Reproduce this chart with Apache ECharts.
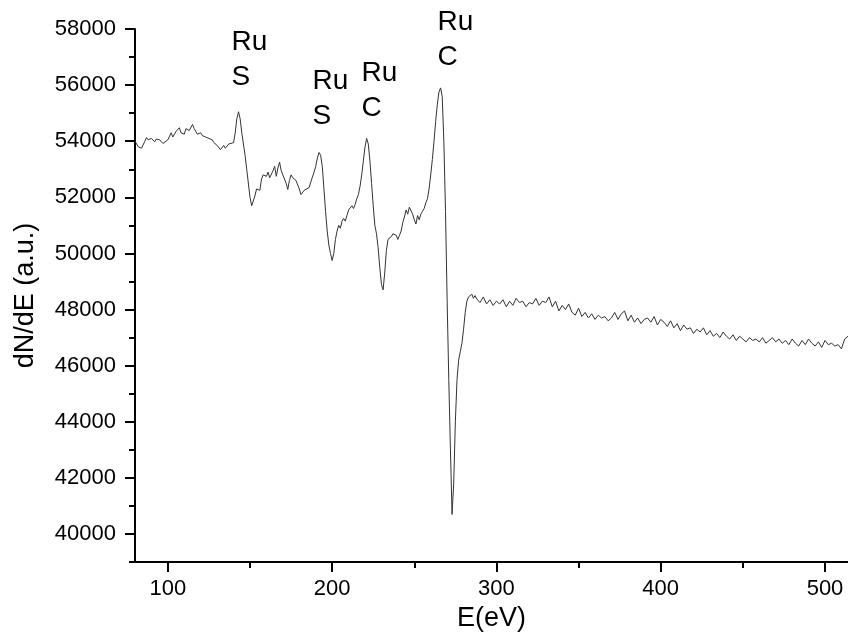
<!DOCTYPE html>
<html>
<head>
<meta charset="utf-8">
<title>Auger spectrum</title>
<script src="https://cdn.jsdelivr.net/npm/echarts@6/dist/echarts.min.js"></script>
<style>
  html, body { margin: 0; padding: 0; background: #fff; }
  #chart { width: 848px; height: 637px; }
</style>
</head>
<body>
<div id="chart"></div>
<script>
// E (eV), dN/dE (a.u.)
const spectrum = [
  [80, 54000], [81, 53950], [82, 53800], [84, 53750], [86, 54000], [87, 54130],
  [88, 54050], [90, 54100], [92, 53980], [93, 54080], [95, 54050], [97, 53920],
  [98, 53880], [100, 54050], [102, 54300], [103, 54150], [105, 54350], [107, 54480],
  [108, 54300], [110, 54250], [111, 54450], [113, 54380], [115, 54600], [116, 54450],
  [118, 54250], [120, 54300], [121, 54200], [123, 54150], [125, 54100], [127, 54050],
  [128, 53950], [130, 53850], [132, 53700], [134, 53850], [135, 53750], [137, 53900],
  [138, 53850], [140, 53950], [141, 54300], [142, 54800], [143, 55050], [144, 54800],
  [145, 54300], [147, 53500], [148, 53000], [150, 52000], [151, 51700], [152, 51750],
  [153, 52050], [154, 52300], [156, 52250], [157, 52650], [158, 52800], [160, 52750],
  [161, 52900], [162, 52700], [164, 52950], [165, 53100], [166, 52750], [167, 53050],
  [168, 53250], [169, 52950], [170, 52800], [171, 52750], [172, 52500], [173, 52280],
  [174, 52600], [175, 52800], [176, 52700], [177, 52750], [178, 52600], [179, 52550],
  [180, 52300], [181, 52100], [182, 52150], [183, 52250], [184, 52300], [186, 52350],
  [187, 52550], [188, 52500], [189, 52900], [190, 53100], [191, 53400], [192, 53600],
  [193, 53500], [194, 53100], [195, 52300], [196, 51500], [197, 50800], [198, 50300],
  [199, 50000], [200, 49750], [201, 50000], [202, 50500], [203, 50800], [204, 51000],
  [205, 50900], [206, 51150], [207, 51250], [208, 51150], [209, 51350], [210, 51550],
  [211, 51500], [212, 51700], [213, 51600], [214, 51750], [215, 51950], [216, 52100],
  [217, 52400], [218, 52800], [219, 53300], [220, 53800], [221, 54100], [222, 53900],
  [223, 53300], [224, 52500], [225, 51700], [226, 51000], [227, 50700], [228, 50200],
  [229, 49500], [230, 48900], [231, 48700], [232, 49300], [233, 50100], [234, 50500],
  [235, 50550], [236, 50600], [237, 50700], [238, 50750], [239, 50650], [240, 50500],
  [241, 50650], [242, 50800], [243, 51100], [244, 51300], [245, 51550], [246, 51400],
  [247, 51650], [248, 51700], [249, 51400], [250, 51200], [251, 51050], [252, 51350],
  [253, 51200], [254, 51400], [255, 51500], [256, 51600], [257, 51800], [258, 51950],
  [259, 52300], [260, 52800], [261, 53350], [262, 54000], [263, 54700], [264, 55300],
  [265, 55750], [266, 55900], [267, 55600], [268, 54000], [269, 51500], [270, 48300],
  [271, 45500], [272, 43000], [273, 40700], [274, 41800], [275, 44000], [276, 45500],
  [277, 46200], [278, 46500], [279, 46800], [280, 47300], [281, 47900], [282, 48300],
  [283, 48450], [284, 48400], [285, 48550], [286, 48400], [287, 48500], [288, 48380],
  [290, 48250], [292, 48450], [294, 48200], [296, 48350], [298, 48150], [300, 48300],
  [302, 48200], [304, 48350], [306, 48100], [308, 48300], [310, 48150], [312, 48400],
  [314, 48250], [316, 48300], [318, 48100], [320, 48250], [322, 48200], [324, 48400],
  [326, 48150], [328, 48300], [330, 48250], [332, 48450], [334, 48100], [336, 48300],
  [338, 47950], [340, 48150], [342, 48000], [344, 48200], [346, 47900], [348, 47800],
  [350, 48050], [352, 47750], [354, 47900], [356, 47700], [358, 47850], [360, 47650],
  [362, 47800], [364, 47700], [366, 47750], [368, 47600], [370, 47700], [372, 47900],
  [374, 47650], [376, 47850], [378, 47950], [380, 47600], [382, 47800], [384, 47550],
  [386, 47700], [388, 47500], [390, 47650], [392, 47700], [394, 47550], [396, 47750],
  [398, 47450], [400, 47650], [402, 47550], [404, 47400], [406, 47600], [408, 47350],
  [410, 47500], [412, 47250], [414, 47450], [416, 47300], [418, 47350], [420, 47150],
  [422, 47300], [424, 47200], [426, 47350], [428, 47100], [430, 47250], [432, 47050],
  [434, 47150], [436, 47000], [438, 47200], [440, 47050], [442, 46950], [444, 47100],
  [446, 46900], [448, 47050], [450, 46950], [452, 46850], [454, 47000], [456, 46900],
  [458, 46950], [460, 46850], [462, 47000], [464, 46800], [466, 46900], [468, 47000],
  [470, 46850], [472, 46950], [474, 46800], [476, 46900], [478, 46750], [480, 46950],
  [482, 46800], [484, 46700], [486, 46900], [488, 46750], [490, 46950], [492, 46800],
  [494, 46700], [496, 46850], [498, 46650], [500, 46900], [502, 46750], [504, 46800],
  [506, 46700], [508, 46750], [510, 46600], [512, 46950], [514, 47050]
];

// peak labels: left edge E, vertical centre in a.u.
const peakE = [139, 188.3, 218.2, 264.4];
const peakV = [56880, 55480, 55780, 57590];
const peakText = ['Ru\nS', 'Ru\nS', 'Ru\nC', 'Ru\nC'];

const xMajor = [100, 200, 300, 400, 500];
const xMinor = [150, 250, 350, 450];
const yMajor = [40000, 42000, 44000, 46000, 48000, 50000, 52000, 54000, 56000, 58000];
const yMinor = [39000, 41000, 43000, 45000, 47000, 49000, 51000, 53000, 55000, 57000];

const FONT = '"Liberation Sans", Arial, sans-serif';

const chart = echarts.init(document.getElementById('chart'));

const axisLineStyle = { show: true, lineStyle: { color: '#000', width: 2 } };
const plain = (v) => String(v);

chart.setOption({
  animation: false,
  grid: { left: 135, right: 0, top: 29, bottom: 72 },
  xAxis: [
    {
      type: 'value',
      min: 80,
      max: 514,
      name: 'E(eV)',
      nameLocation: 'middle',
      nameGap: 42,
      nameTextStyle: { fontFamily: FONT, fontSize: 27, color: '#000' },
      axisLine: axisLineStyle,
      axisTick: { show: true, length: 10, customValues: xMajor, lineStyle: { color: '#000', width: 2 } },
      axisLabel: { customValues: xMajor, formatter: plain, fontFamily: FONT, fontSize: 22, color: '#000', margin: 16 },
      splitLine: { show: false }
    },
    {
      type: 'value',
      min: 80,
      max: 514,
      position: 'bottom',
      axisLine: { show: false },
      axisTick: { show: true, length: 6, customValues: xMinor, lineStyle: { color: '#000', width: 2 } },
      axisLabel: { show: false },
      splitLine: { show: false }
    }
  ],
  yAxis: [
    {
      type: 'value',
      min: 39000,
      max: 58000,
      name: 'dN/dE (a.u.)',
      nameLocation: 'middle',
      nameGap: 96,
      nameTextStyle: { fontFamily: FONT, fontSize: 27, color: '#000' },
      axisLine: axisLineStyle,
      axisTick: { show: true, length: 10, customValues: yMajor, lineStyle: { color: '#000', width: 2 } },
      axisLabel: { customValues: yMajor, formatter: plain, fontFamily: FONT, fontSize: 22, color: '#000', margin: 19 },
      splitLine: { show: false }
    },
    {
      type: 'value',
      min: 39000,
      max: 58000,
      position: 'left',
      axisLine: { show: false },
      axisTick: { show: true, length: 6, customValues: yMinor, lineStyle: { color: '#000', width: 2 } },
      axisLabel: { show: false },
      splitLine: { show: false }
    }
  ],
  series: [
    {
      type: 'line',
      data: spectrum,
      showSymbol: false,
      symbol: 'none',
      lineStyle: { color: '#333', width: 1 },
      silent: true
    },
    {
      type: 'scatter',
      data: peakE.map((e, i) => [e, peakV[i]]),
      symbolSize: 1,
      itemStyle: { color: 'rgba(0,0,0,0)', opacity: 1 },
      silent: true,
      label: {
        show: true,
        position: [0, 0],
        align: 'left',
        verticalAlign: 'middle',
        fontFamily: FONT,
        fontSize: 28,
        lineHeight: 35,
        color: '#000',
        formatter: (p) => peakText[p.dataIndex]
      }
    }
  ]
});
</script>
</body>
</html>
